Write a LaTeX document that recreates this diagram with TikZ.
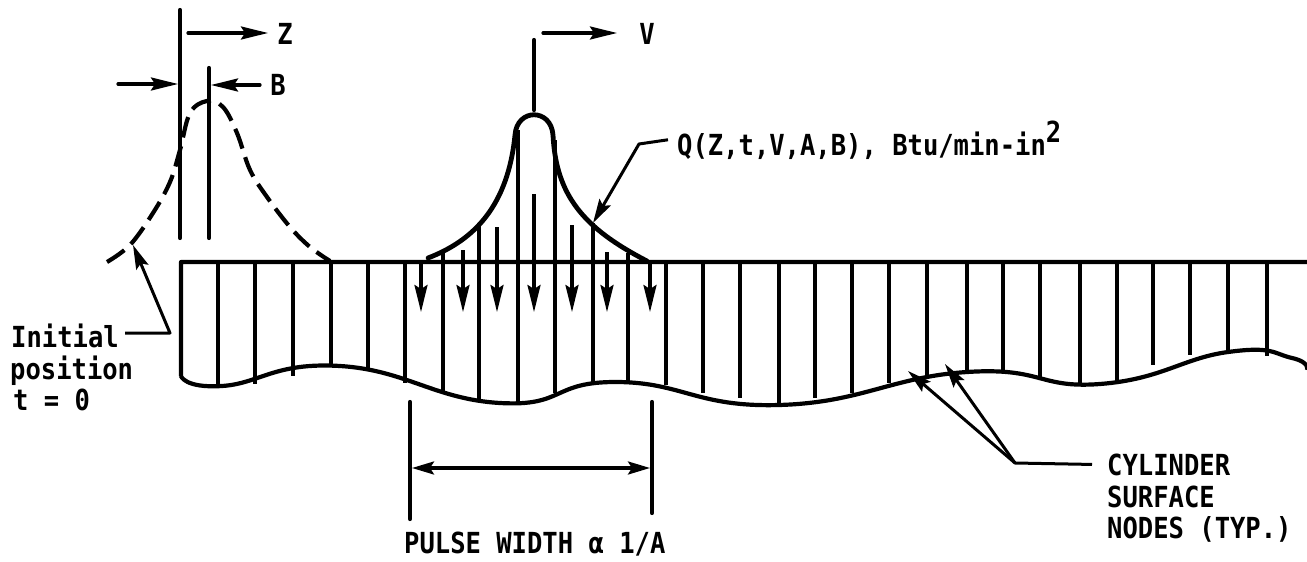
\documentclass[tikz,border=0pt]{standalone}
\usepackage{fontspec}
\usetikzlibrary{arrows.meta, positioning}
\newfontfamily\platefont[FakeStretch=0.88]{DejaVu Sans Mono Bold}

\begin{document}
\begin{tikzpicture}[
    x=1pt, y=-1pt,
    label/.style={inner sep=0pt, anchor=base west, font=\platefont\fontsize{29}{32}\selectfont},
    surface/.style={line width=4.2pt, line join=round},
    node line/.style={line width=3.2pt},
    pulse/.style={line width=4.8pt, line cap=round},
    mark line/.style={line width=4.2pt, line cap=round},
    arrow/.style={line width=3.2pt, line cap=round, -{Stealth[length=27pt,width=13pt,inset=4pt]}},
    leader/.style={line width=3pt, line join=round, -{Stealth[length=24pt,width=13pt,inset=4pt]}}
]
\useasboundingbox (0,0) rectangle (1307,562);

% Nodes
\node (z) [label, anchor=center] at (285,34) {Z};
\node (b) [label, anchor=center] at (278,85) {B};
\node (v) [label, anchor=center] at (647,34) {V};
\node (q) [label] at (677,155) {Q(Z,t,V,A,B), Btu/min-in\raisebox{13pt}{2}};
\node (init) [label] at (11,347) {Initial};
\node (posn) [label] at (10,379) {position};
\node (tzero) [label] at (13,410) {t = 0};
\node (width) [label] at (404,553) {PULSE WIDTH \char"03B1{} 1/A};
\node (cyl) [label] at (1107,475) {CYLINDER};
\node (surf) [label] at (1107,507) {SURFACE};
\node (typ) [label] at (1107,538) {NODES (TYP.)};

\coordinate (zlo) at (180,238);
\coordinate (zhi) at (180,10);
\coordinate (blo) at (209,238);
\coordinate (bhi) at (209,68);
\coordinate (vlo) at (534,110);
\coordinate (vhi) at (534,40);
\coordinate (wl) at (410,402);
\coordinate (wlb) at (410,519);
\coordinate (wr) at (652,402);
\coordinate (wrb) at (652,513);
\coordinate (initknee) at (170,333);
\coordinate (cylknee) at (1015,463);

% Cylinder surface
\draw [surface] (1307,262) -- (181,262) -- (181,376)
    plot [smooth, tension=0.85] coordinates {(181,376) (222,386) (340,366) (500,403) (617,382) (779,405)
    (967,372) (1100,384) (1228,352) (1292,358) (1307,370)};
\foreach \nx/\ntop/\nbot in {218/262/386, 255/262/384, 293/262/376, 331/262/366, 368/262/370, 405/262/383,
    443/250/393, 479/223/402, 518/130/402, 555/140/393, 593/223/384, 628/253/382, 666/262/385, 703/262/393,
    740/262/398, 779/262/405, 815/262/398, 852/262/393, 889/262/383, 927/262/375, 967/262/372, 1003/262/372,
    1040/262/377, 1080/262/383, 1117/262/382, 1153/262/365, 1190/262/355, 1228/262/352, 1267/262/356}
    \draw [node line] (\nx,\ntop) -- (\nx,\nbot);

% Pulses
\draw [pulse] (428,258) .. controls (475,240) and (508,205) .. (515,135)
    .. controls (517,108) and (551,108) .. (553,135)
    .. controls (556,195) and (583,228) .. (647,261);
\draw [pulse, line width=4.2pt, line cap=butt, dash pattern=on 21pt off 9pt]
    plot [smooth, tension=0.6] coordinates {(107,262) (130,245) (153,213) (170,182) (180,150) (190,113) (207,101)
    (223,107) (237,133) (250,170) (267,197) (290,227) (310,247) (330,261)};

% Marker lines
\draw [mark line] (zlo) -- (zhi);
\draw [mark line] (blo) -- (bhi);
\draw [mark line] (vlo) -- (vhi);
\draw [mark line] (wl) -- (wlb);
\draw [mark line] (wr) -- (wrb);

% Arrows
\draw [arrow] (188,33) -- (268,33);
\draw [arrow] (118,84) -- (178,84);
\draw [arrow] (260,85) -- (211,85);
\draw [arrow] (543,33) -- (617,33);
\draw [arrow, {Stealth[length=22pt,width=13pt,inset=4pt]}-{Stealth[length=22pt,width=13pt,inset=4pt]}] (412,468) -- (650,468);
\foreach \ax/\ay in {421/263, 463/250, 497/227, 534/194, 572/225, 607/252, 650/263}
    \draw [arrow, line cap=butt] (\ax,\ay) -- (\ax,312);

% Leaders
\draw [leader] ([xshift=-9pt]q.west) -- (639,144) -- (593,223);
\draw [leader] ([xshift=-45pt]initknee) -- (initknee) -- (133,245);
\draw [leader] ([xshift=-15pt]cyl.west) -- (cylknee) -- (908,371);
\draw [leader] (cylknee) -- (945,364);

\end{tikzpicture}
\end{document}
